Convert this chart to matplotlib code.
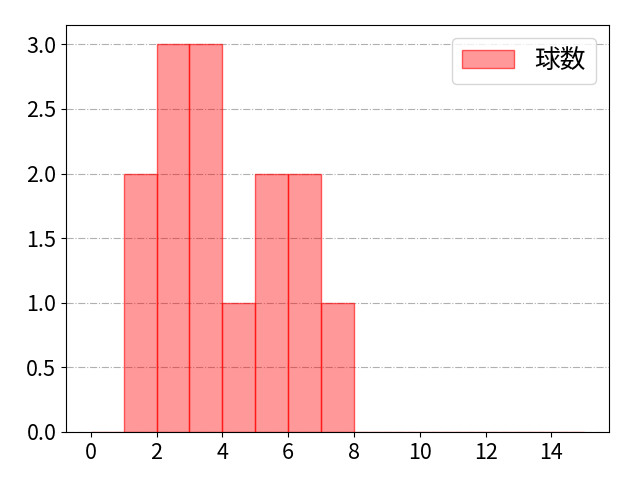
import matplotlib
matplotlib.use("Agg")
import matplotlib.pyplot as plt
import numpy as np

plt.rcParams['font.family'] = ['Noto Sans CJK JP', 'DejaVu Sans']
plt.rcParams['font.size'] = 15.5

bin_edges = list(range(0, 16))
counts = [0, 2, 3, 3, 1, 2, 2, 1, 0, 0, 0, 0, 0, 0, 0]
label = "球数"

fig, ax = plt.subplots(figsize=(6.4, 4.8), dpi=100)
fig.subplots_adjust(left=66/640, right=609/640, top=1-25/480, bottom=1-432/480)
ax.hist(bin_edges[:-1], bins=bin_edges, weights=counts,
        facecolor=(1, 0, 0, 0.4), edgecolor=(1, 0, 0, 0.6), linewidth=1, label=label)
ax.grid(axis='y', linestyle='-.', color='#b0b0b0', linewidth=0.8)
ax.set_axisbelow(True)
ax.set_xticks(range(0, 15, 2))
ax.legend(loc='upper right', fontsize=18.5, handlelength=2.0, handletextpad=0.8)
fig.savefig("out.png")
